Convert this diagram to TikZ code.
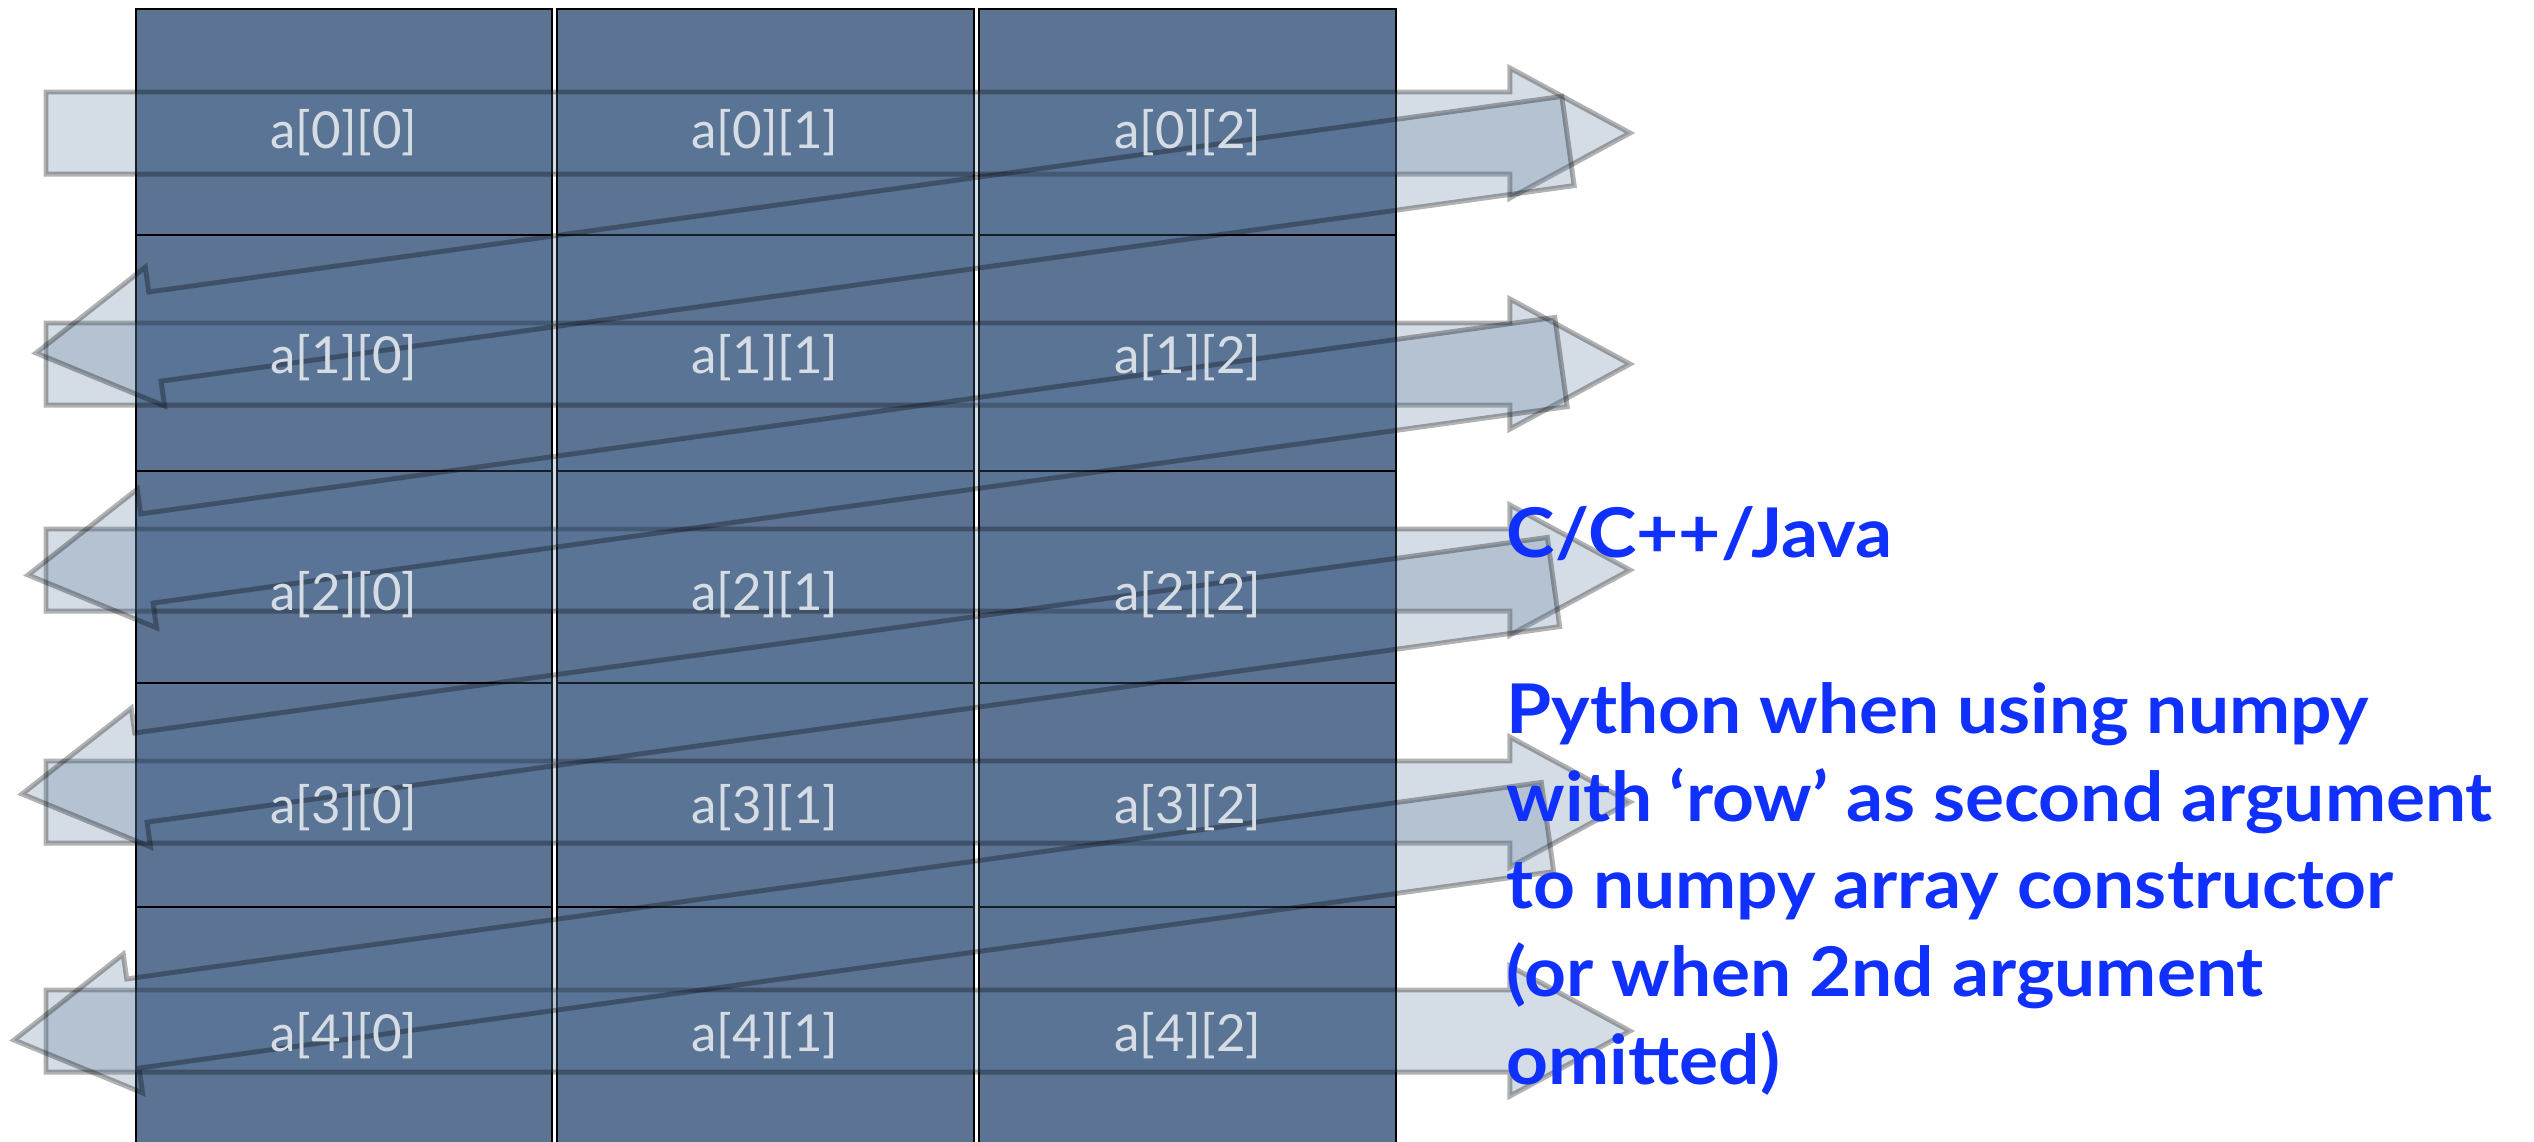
\documentclass[tikz,border=0pt]{standalone}
\usepackage{fontspec}
\setmainfont{Lato}
\newfontfamily\bluefont{Lato}[FakeStretch=1.065]
\usetikzlibrary{calc}
\definecolor{cellfill}{RGB}{92,115,148}
\definecolor{celltext}{RGB}{214,220,228}
\definecolor{arrowfill}{RGB}{87,119,155}
\definecolor{bluetext}{RGB}{16,48,255}
\tikzset{
  cell/.style={draw=black, line width=0.8pt, fill=cellfill, inner sep=0pt, outer sep=0pt},
  lab/.style={text=celltext, inner sep=0pt, font=\fontsize{14.5pt}{16pt}\selectfont},
  bluelab/.style={text=bluetext, inner sep=0pt, font=\bluefont\fontsize{19.5pt}{24.9pt}\selectfont\bfseries},
  blockarr/.style={fill=arrowfill, fill opacity=0.25, draw=black, draw opacity=0.3, line width=1.4pt, line join=miter}
}
% #1 tail centre, #2 tip, #3 shaft half width, #4 head half width, #5 head length
\newcommand{\blockarrow}[5]{%
  \coordinate (bac) at ($(#2)!#5!(#1)$);
  \filldraw[blockarr]
    ($(#1)!#3!90:(#2)$) -- ($(bac)!#3!90:(#2)$) -- ($(bac)!#4!90:(#2)$) -- (#2)
    -- ($(bac)!#4!-90:(#2)$) -- ($(bac)!#3!-90:(#2)$) -- ($(#1)!#3!-90:(#2)$) -- cycle;
}
\begin{document}
\begin{tikzpicture}[x=0.01cm, y=-0.01cm]
\path[use as bounding box, fill=white] (0,0) rectangle (2534,1141);
\clip (0,0) rectangle (2534,1141);
% grid cells
\foreach \r/\ya/\yb in {0/9/235,1/235/471,2/471/683,3/683/907,4/907/1160}{
  \foreach \c/\xa/\xb in {0/136/552,1/557/974,2/979/1396}{
    \node[cell, minimum width={(\xb-\xa)*0.01cm}, minimum height={(\yb-\ya)*0.01cm}]
      (c\r\c) at ({(\xa+\xb)/2},{(\ya+\yb)/2}) {};
  }
}
% arrow end points
\foreach \r/\y in {0/133,1/364,2/570,3/802,4/1031}{
  \coordinate (hs\r) at (46,\y);
  \coordinate (he\r) at (1630,\y);
}
\coordinate (ds0) at (1568,141);   \coordinate (de0) at (36,353);
\coordinate (ds1) at (1561,362);   \coordinate (de1) at (28,575);
\coordinate (ds2) at (1553.5,582); \coordinate (de2) at (22,794);
\coordinate (ds3) at (1547.5,827); \coordinate (de3) at (14,1040);
% row arrows
\foreach \r in {0,...,4}{\blockarrow{hs\r}{he\r}{0.41cm}{0.65cm}{1.2cm}}
% return arrows
\foreach \r in {0,...,3}{\blockarrow{ds\r}{de\r}{0.45cm}{0.70cm}{1.2cm}}
% labels
\foreach \r/\y in {0/133,1/357.5,2/595,3/808,4/1036}{
  \foreach \c/\x in {0/344,1/765,2/1188}{
    \node[lab] (t\r\c) at (\x,\y) {a[\r][\c]};
  }
}
\node[bluelab, anchor=base west] (cpp) at (1506,557) {C/C++/Java};
\node[bluelab, anchor=base west, align=left] (py) at (1506,1084)
  {Python when using numpy\\with ‘row’ as second argument\\to numpy array constructor\\(or when 2nd argument\\omitted)};
\end{tikzpicture}
\end{document}
